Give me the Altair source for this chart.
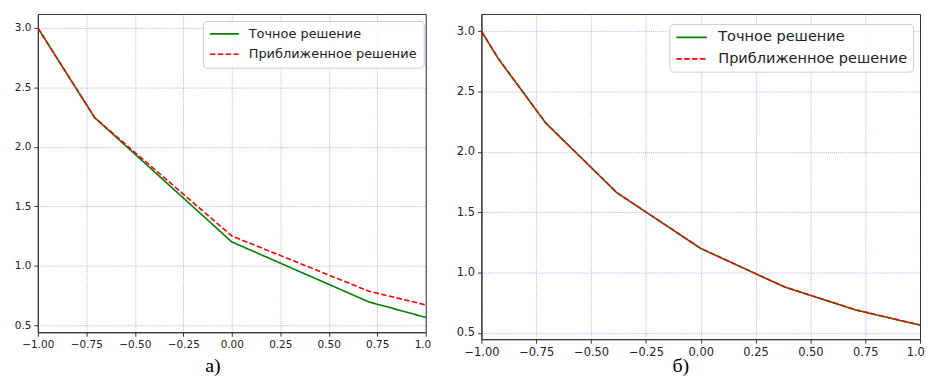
import altair as alt
import pandas as pd

series_names = ["Точное решение", "Приближенное решение"]
series_colors = ["#008000", "#ff0000"]

x_a = [-1.0, -0.7071, 0.0, 0.7071, 1.0]
exact_a = [3.0, 2.245, 1.2, 0.695, 0.565]
approx_a = [3.0, 2.245, 1.25, 0.785, 0.67]

x_b = [-1.0, -0.9239, -0.7071, -0.3827, 0.0, 0.3827, 0.7071, 0.9239, 1.0]
exact_b = [3.0, 2.775, 2.24, 1.662, 1.2, 0.88, 0.69, 0.597, 0.565]
approx_b = [3.0, 2.776, 2.241, 1.663, 1.201, 0.881, 0.691, 0.598, 0.566]

x_ticks = [-1.0, -0.75, -0.5, -0.25, 0.0, 0.25, 0.5, 0.75, 1.0]
y_ticks = [0.5, 1.0, 1.5, 2.0, 2.5, 3.0]
panel_titles = ["а)", "б)"]


def frame(xs, ys, name):
    return pd.DataFrame({"x": xs, "y": ys, "series": name})


def panel(xs, ex, ap, title, w, h, ydom, tick_fs, legend_fs, diam, half_len,
          label_gap, leg_x, leg_y, row_pad, last_shift, title_off, title_dx):
    xsc = alt.Scale(domain=[-1, 1], nice=False, zero=False)
    ysc = alt.Scale(domain=ydom, nice=False, zero=False)
    xax = alt.Axis(values=x_ticks, format=".2f", title=None, labelFontSize=tick_fs,
                   grid=True, labelFlush=False,
                   labelExpr="datum.value == 1 ? '1.0' : datum.label",
                   labelOffset={"condition": {"test": "datum.value == 1", "value": last_shift},
                                "value": 0})
    yax = alt.Axis(values=y_ticks, format=".1f", title=None, labelFontSize=tick_fs,
                   grid=True)
    k = half_len / (diam / 2.0)
    sym_off = half_len - diam / 2.0
    color = alt.Color("series:N",
                      scale=alt.Scale(domain=series_names, range=series_colors),
                      legend=alt.Legend(title=None, orient="none", legendX=leg_x, legendY=leg_y,
                                        symbolType=f"M-{k:.3f},0H{k:.3f}",
                                        symbolStrokeWidth=1.7,
                                        symbolSize=diam * diam,
                                        symbolOffset=sym_off,
                                        labelOffset=2 * half_len + label_gap - diam - sym_off,
                                        labelFontSize=legend_fs, labelFont="DejaVu Sans",
                                        labelColor="#222",
                                        fillColor="rgba(255,255,255,0.85)",
                                        strokeColor="#cccccc", cornerRadius=4,
                                        padding=6, rowPadding=row_pad,
                                        labelLimit=400))
    dash = alt.StrokeDash("series:N",
                          scale=alt.Scale(domain=series_names, range=[[1, 0], [5.5, 2.4]]),
                          legend=None)
    g = alt.Chart(frame(xs, ex, series_names[0])).mark_line(strokeWidth=1.6).encode(
        x=alt.X("x:Q", scale=xsc, axis=xax),
        y=alt.Y("y:Q", scale=ysc, axis=yax),
        color=color, strokeDash=dash)
    r = alt.Chart(frame(xs, ap, series_names[1])).mark_line(strokeWidth=1.6).encode(
        x=alt.X("x:Q", scale=xsc, axis=xax),
        y=alt.Y("y:Q", scale=ysc, axis=yax),
        color=color, strokeDash=dash)
    return alt.layer(g, r).properties(
        width=w, height=h,
        title=alt.TitleParams(title, orient="bottom", font="Liberation Serif",
                              fontSize=20, fontWeight="normal", color="#000",
                              offset=title_off, frame="group", dx=title_dx))


left = panel(x_a, exact_a, approx_a, panel_titles[0], 390, 320, [0.44, 3.117],
             10.5, 13, 12, 14.5, 9, 166, 7, 6.5, -3.3, 6, -19)
right = panel(x_b, exact_b, approx_b, panel_titles[1], 441, 327, [0.448, 3.143],
              11.5, 14.6, 13, 15.3, 10.5, 189, 10, 5.7, -4.8, -1.5, -20)

chart = alt.hconcat(left, right, spacing=56, bounds="flush").resolve_scale(
    color="independent", strokeDash="independent", x="independent", y="independent"
).properties(
    padding={"left": 5, "top": 4, "right": 0, "bottom": 0}
).configure_view(
    stroke="#333", strokeWidth=1
).configure_axis(
    labelFont="DejaVu Sans", labelColor="#222", domainColor="#333", tickColor="#333",
    tickSize=4, labelPadding=3, gridColor="#0000ff", gridOpacity=0.3, gridDash=[1, 1],
    gridWidth=1
)

chart.save("out.html", embed_options={"renderer": "svg", "actions": False})
